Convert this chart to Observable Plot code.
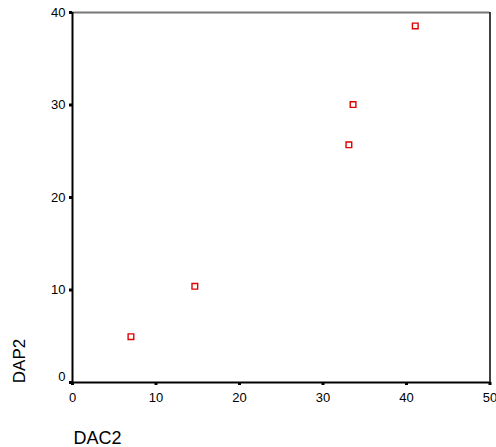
<!DOCTYPE html>
<html>
<head>
<meta charset="utf-8">
<script src="https://cdn.jsdelivr.net/npm/d3@7"></script>
<script src="https://cdn.jsdelivr.net/npm/@observablehq/plot@0.6"></script>
<style>
  html, body { margin: 0; padding: 0; background: #fff; }
  #chart svg { display: block; }
</style>
</head>
<body>
<div id="chart"></div>
<script>
// DAC2 vs DAP2 observations
const dac2 = [7.0, 14.65, 33.1, 33.6, 41.05];
const dap2 = [4.95, 10.4, 25.7, 30.05, 38.55];

const xTicks = [0, 10, 20, 30, 40, 50];
const yTicks = [0, 10, 20, 30, 40];

const points = dac2.map((x, i) => ({x, y: dap2[i]}));

const chart = Plot.plot({
  width: 496,
  height: 447,
  marginLeft: 72,
  marginRight: 6.5,
  marginTop: 12,
  marginBottom: 65,
  style: {fontFamily: "'Liberation Sans', Arial, sans-serif", fontSize: "13px", color: "#000", background: "#fff"},
  x: {domain: [0, 50]},
  y: {domain: [0, 40]},
  marks: [
    // frame: top edge grey, other edges black
    Plot.ruleY([40], {stroke: "#777", strokeWidth: 2}),
    Plot.ruleX([50], {stroke: "#000", strokeWidth: 1.5}),
    Plot.ruleX([0], {stroke: "#000", strokeWidth: 2}),
    Plot.ruleY([0], {stroke: "#000", strokeWidth: 2}),
    // x axis
    Plot.axisX(xTicks, {tickSize: 3, strokeWidth: 3, tickPadding: 7, fontSize: 13, label: null}),
    // y axis (the 0 label sits a little above its tick)
    Plot.axisY(yTicks.filter(d => d > 0), {tickSize: 3, strokeWidth: 3, tickPadding: 4, fontSize: 13, label: null}),
    Plot.axisY([0], {tickSize: 3, strokeWidth: 3, tickFormat: () => "", label: null}),
    Plot.axisY([0], {tickSize: 0, tickPadding: 7, dy: -6, fontSize: 13, label: null}),
    // axis titles
    Plot.text(["DAP2"], {frameAnchor: "bottom-left", dx: -48, dy: -21.5, rotate: -90, textAnchor: "middle", fontSize: 17, fill: "#000"}),
    Plot.text(["DAC2"], {frameAnchor: "bottom-left", dx: 25, dy: 61, textAnchor: "middle", fontSize: 18, fill: "#000"}),
    // observations
    Plot.dot(points, {x: "x", y: "y", symbol: "square", r: 3.2, stroke: "#e00000", strokeWidth: 1.4, fill: "#fff"})
  ]
});

document.getElementById("chart").appendChild(chart);
</script>
</body>
</html>
